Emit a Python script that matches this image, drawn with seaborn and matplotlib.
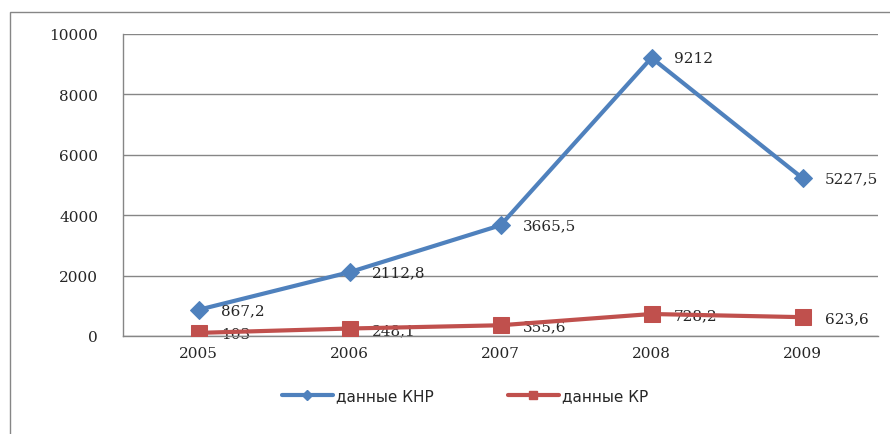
import numpy as np
import pandas as pd
import matplotlib
matplotlib.use('Agg')
import matplotlib.pyplot as plt
import matplotlib.patches as patches
from matplotlib.lines import Line2D
import seaborn as sns

# Data
years = ['2005', '2006', '2007', '2008', '2009']
knr = [867.2, 2112.8, 3665.5, 9212, 5227.5]
kr = [103, 248.1, 355.6, 728.2, 623.6]
knr_labels = ['867,2', '2112,8', '3665,5', '9212', '5227,5']
kr_labels = ['103', '248,1', '355,6', '728,2', '623,6']
series_names = ['данные КНР', 'данные КР']

blue = '#4F81BD'
red = '#C0504D'
grid_col = '#868686'

sns.set_style('white')
plt.rcParams['font.family'] = ['DejaVu Serif', 'DejaVu Sans']

df = pd.DataFrame({'pos': np.arange(len(years)), 'knr': knr, 'kr': kr})

fig = plt.figure(figsize=(8.9, 4.35), dpi=100)
ax = fig.add_axes([123 / 890, 1 - 337 / 435, (878 - 123) / 890, (337 - 35) / 435])

sns.lineplot(data=df, x='pos', y='knr', ax=ax, color=blue, linewidth=3,
             marker='D', markersize=9, markeredgecolor=blue, zorder=4)
sns.lineplot(data=df, x='pos', y='kr', ax=ax, color=red, linewidth=3,
             marker='s', markersize=12, markeredgecolor=red, zorder=3)

for i in range(len(years)):
    ax.annotate(knr_labels[i], (df.pos[i], knr[i]), xytext=(16, 0),
                textcoords='offset points', va='center', ha='left', fontsize=11, zorder=5)
    ax.annotate(kr_labels[i], (df.pos[i], kr[i]), xytext=(16, -1),
                textcoords='offset points', va='center', ha='left', fontsize=11, zorder=2)

ax.set_xlim(-0.5, len(years) - 0.5)
ax.set_ylim(0, 10000)
ax.set_yticks(np.arange(0, 10001, 2000))
ax.set_xticks(df.pos)
ax.set_xticklabels(years)
ax.set_xticks(np.arange(-0.5, len(years), 1), minor=True)
ax.tick_params(axis='x', which='major', length=0, pad=7, labelsize=11)
ax.tick_params(axis='x', which='minor', length=6, color=grid_col, direction='out')
ax.tick_params(axis='y', length=6, color=grid_col, direction='out', pad=12, labelsize=11)
ax.set_xlabel('')
ax.set_ylabel('')

ax.yaxis.grid(True, color=grid_col, linewidth=1)
ax.set_axisbelow(True)
for side in ['top', 'right']:
    ax.spines[side].set_visible(False)
for side in ['left', 'bottom']:
    ax.spines[side].set_color(grid_col)
    ax.spines[side].set_linewidth(1)

handles = [Line2D([], [], color=blue, linewidth=3, marker='D', markersize=5),
           Line2D([], [], color=red, linewidth=3, marker='s', markersize=6)]
leg = fig.legend(handles, series_names, loc='center', bbox_to_anchor=(465 / 890, 1 - 397 / 435),
                 ncol=2, frameon=False, handlelength=3.3, handletextpad=0.2,
                 columnspacing=4.9, prop={'family': 'DejaVu Sans', 'size': 11})

# outer chart border (Excel style)
fig.patches.append(patches.Rectangle((10 / 890, -0.1), 1.0, 1 - 13 / 435 + 0.1,
                                     transform=fig.transFigure, fill=False,
                                     edgecolor=grid_col, linewidth=1))

fig.savefig('out.png', dpi=100)
